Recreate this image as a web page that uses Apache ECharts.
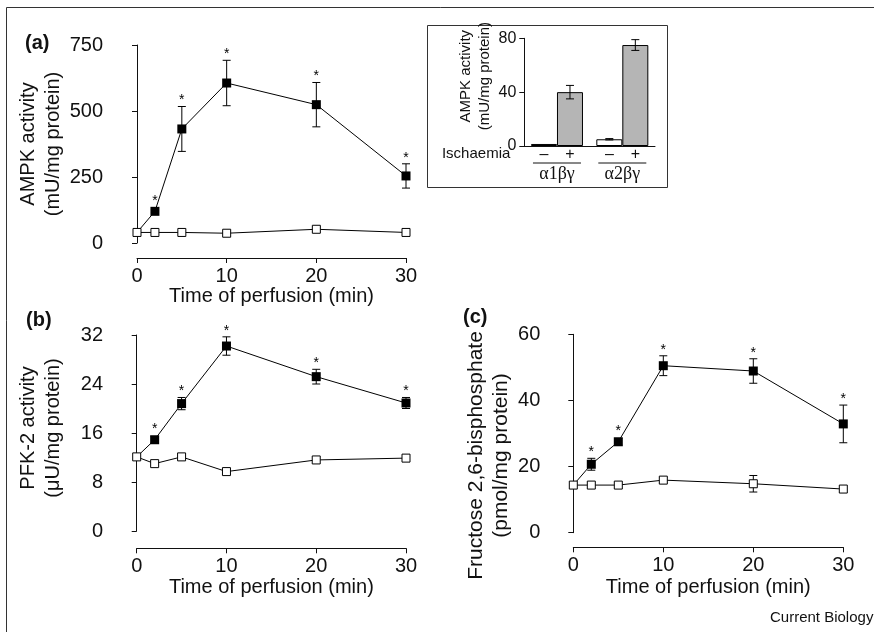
<!DOCTYPE html>
<html><head><meta charset="utf-8">
<script src="https://cdn.jsdelivr.net/npm/echarts@6/dist/echarts.min.js"></script>
<style>html,body{margin:0;padding:0;background:#fff}#chart{width:874px;height:632px}</style>
</head><body><div id="chart"></div>
<script>
// ---------------- data ----------------
const TIME = [0, 2, 5, 10, 20, 30];
const TIME_TICKS = [0, 10, 20, 30];
const X_NAME = 'Time of perfusion (min)';

const A_ISCH = [40, 120, 432, 606, 524, 254];
const A_ISCH_ERR = [0, 6, 85, 86, 84, 46];
const A_CTRL = [40, 40, 40, 37, 52, 40];
const A_CTRL_ERR = [0, 0, 0, 0, 10, 0];
const A_Y_TICKS = [0, 250, 500, 750];

const B_ISCH = [12.1, 14.9, 20.8, 30.2, 25.2, 20.9];
const B_ISCH_ERR = [0, 0.5, 1.0, 1.5, 1.2, 0.9];
const B_CTRL = [12.1, 11.0, 12.1, 9.7, 11.6, 11.9];
const B_CTRL_ERR = [0, 0, 0, 0, 0, 0];
const B_Y_TICKS = [0, 8, 16, 24, 32];

const C_ISCH = [14.4, 20.7, 27.5, 50.5, 48.9, 32.9];
const C_ISCH_ERR = [0, 1.8, 1.0, 3.0, 3.7, 5.7];
const C_CTRL = [14.4, 14.4, 14.4, 15.9, 14.8, 13.2];
const C_CTRL_ERR = [0, 0, 0, 0.8, 2.5, 0];
const C_Y_TICKS = [0, 20, 40, 60];

const STARRED = [false, true, true, true, true, true];

const INSET_GROUPS = ['α1βγ', 'α2βγ'];
const INSET_MINUS = [1.5, 5];
const INSET_MINUS_ERR = [0, 0.5];
const INSET_PLUS = [40, 75];
const INSET_PLUS_ERR = [5, 4];
const INSET_Y_TICKS = [0, 40, 80];
const ISCHAEMIA_MARKS = ['–', '+'];

// ---------------- style / layout ----------------
const SANS = '"Liberation Sans", Arial, Helvetica, sans-serif';
const SERIF = '"Liberation Serif", "Times New Roman", serif';
const INK = '#111';

const PANELS = [
  { isch: A_ISCH, ischErr: A_ISCH_ERR, ctrl: A_CTRL, ctrlErr: A_CTRL_ERR, yTicks: A_Y_TICKS,
    yName: 'AMPK activity\n(mU/mg protein)', yNameSize: 20,
    axisX: 115, x0: 137, x30: 406, yTop: 45, yBottom: 243, xAxisY: 258,
    yNameGap: 49, yNamePad: [0, 0, 0, 0], xNameGap: 24 },
  { isch: B_ISCH, ischErr: B_ISCH_ERR, ctrl: B_CTRL, ctrlErr: B_CTRL_ERR, yTicks: B_Y_TICKS,
    yName: 'PFK-2 activity\n(μU/mg protein)', yNameSize: 20,
    axisX: 115, x0: 136.7, x30: 406, yTop: 335, yBottom: 531, xAxisY: 548.3,
    yNameGap: 49, yNamePad: [0, 0, 0, 10], xNameGap: 29 },
  { isch: C_ISCH, ischErr: C_ISCH_ERR, ctrl: C_CTRL, ctrlErr: C_CTRL_ERR, yTicks: C_Y_TICKS,
    yName: 'Fructose 2,6-bisphosphate\n(pmol/mg protein)', yNameSize: 21,
    axisX: 552.3, x0: 573.3, x30: 843.3, yTop: 334.3, yBottom: 532.7, xAxisY: 547.3,
    yNameGap: 39, yNamePad: [0, 44, 0, 0], xNameGap: 30 }
];
const INSET = { left: 524.3, top: 38.3, width: 130.7, height: 107.7, barWidth: 26 };

const axisLineStyle = { show: true, lineStyle: { color: INK, width: 1 } };
const axisTickStyle = { show: true, inside: false, length: 5, lineStyle: { color: INK, width: 1 } };

function errRender(dx) {
  return function (params, api) {
    const x = api.value(0), y = api.value(1), e = api.value(2);
    if (!e) return { type: 'group', children: [] };
    const t = api.coord([x, y + e]), b = api.coord([x, y - e]);
    const cx = t[0] + dx, cap = 4;
    const style = { stroke: '#000', lineWidth: 1 };
    return { type: 'group', children: [
      { type: 'line', shape: { x1: cx, y1: t[1], x2: cx, y2: b[1] }, style },
      { type: 'line', shape: { x1: cx - cap, y1: t[1], x2: cx + cap, y2: t[1] }, style },
      { type: 'line', shape: { x1: cx - cap, y1: b[1], x2: cx + cap, y2: b[1] }, style }
    ] };
  };
}
function starRender(params, api) {
  const x = api.value(0), y = api.value(1), e = api.value(2);
  const c = api.coord([x, y]), t = api.coord([x, y + e]);
  const top = Math.min(t[1], c[1] - 4.5);
  return { type: 'text', x: c[0], y: top - 6,
    style: { text: '*', fill: '#000', fontSize: 14, fontFamily: SANS, align: 'center', verticalAlign: 'middle' } };
}

const grid = [], xAxis = [], yAxis = [], series = [];
PANELS.forEach(function (p) {
  const first = TIME_TICKS[0], last = TIME_TICKS[TIME_TICKS.length - 1];
  const pxPerMin = (p.x30 - p.x0) / (last - first);
  const gData = grid.length;
  grid.push({ left: p.axisX, top: p.yTop, width: p.x30 - p.axisX, height: p.yBottom - p.yTop });
  const gAxis = grid.length;
  grid.push({ left: p.x0, top: p.xAxisY - 10, width: p.x30 - p.x0, height: 10 });
  const xi = xAxis.length;
  xAxis.push({ gridIndex: gData, type: 'value', min: first - (p.x0 - p.axisX) / pxPerMin, max: last, show: false, splitLine: { show: false } });
  xAxis.push({ gridIndex: gAxis, type: 'value', min: first, max: last, interval: TIME_TICKS[1] - TIME_TICKS[0],
    axisLine: axisLineStyle, axisTick: axisTickStyle, splitLine: { show: false },
    axisLabel: { show: true, fontSize: 20, fontFamily: SANS, color: INK, margin: 8 },
    name: X_NAME, nameLocation: 'middle', nameGap: p.xNameGap,
    nameTextStyle: { fontSize: 20, fontFamily: SANS, color: INK } });
  const yi = yAxis.length;
  const yt = p.yTicks;
  yAxis.push({ gridIndex: gData, type: 'value', min: yt[0], max: yt[yt.length - 1], interval: yt[1] - yt[0],
    axisLine: axisLineStyle, axisTick: axisTickStyle, splitLine: { show: false },
    axisLabel: { show: true, fontSize: 20, fontFamily: SANS, color: INK, margin: 12 },
    name: p.yName, nameLocation: 'middle', nameGap: p.yNameGap, nameRotate: 90,
    nameTextStyle: { fontSize: p.yNameSize, lineHeight: 25, fontFamily: SANS, color: INK, padding: p.yNamePad } });
  yAxis.push({ gridIndex: gAxis, type: 'value', min: 0, max: 1, show: false, splitLine: { show: false } });

  series.push({ type: 'custom', xAxisIndex: xi, yAxisIndex: yi, renderItem: errRender(0), clip: false, z: 1,
    data: TIME.map(function (t, k) { return [t, p.isch[k], p.ischErr[k]]; }) });
  series.push({ type: 'custom', xAxisIndex: xi, yAxisIndex: yi, renderItem: errRender(0), clip: false, z: 1,
    data: TIME.map(function (t, k) { return [t, p.ctrl[k], p.ctrlErr[k]]; }) });
  series.push({ type: 'line', xAxisIndex: xi, yAxisIndex: yi, clip: false, z: 2, showAllSymbol: true,
    symbol: 'rect', symbolSize: 9, itemStyle: { color: '#000' }, lineStyle: { color: '#000', width: 1 },
    emphasis: { disabled: true },
    data: TIME.map(function (t, k) { return k === 0 ? { value: [t, p.isch[k]], symbol: 'none' } : [t, p.isch[k]]; }) });
  series.push({ type: 'line', xAxisIndex: xi, yAxisIndex: yi, clip: false, z: 3, showAllSymbol: true,
    symbol: 'rect', symbolSize: 8, itemStyle: { color: '#fff', borderColor: '#000', borderWidth: 1 },
    lineStyle: { color: '#000', width: 1 }, emphasis: { disabled: true },
    data: TIME.map(function (t, k) { return [t, p.ctrl[k]]; }) });
  series.push({ type: 'custom', xAxisIndex: xi, yAxisIndex: yi, renderItem: starRender, clip: false, z: 4,
    data: TIME.map(function (t, k) { return [t, p.isch[k], p.ischErr[k]]; }).filter(function (d, k) { return STARRED[k]; }) });
});

// inset
const gi = grid.length;
grid.push({ left: INSET.left, top: INSET.top, width: INSET.width, height: INSET.height });
const ixi = xAxis.length;
xAxis.push({ gridIndex: gi, type: 'category', data: INSET_GROUPS, boundaryGap: true,
  axisLine: axisLineStyle, axisTick: { show: false }, splitLine: { show: false },
  axisLabel: { show: true, fontSize: 18, fontFamily: SERIF, color: INK, margin: 19 } });
const iyi = yAxis.length;
yAxis.push({ gridIndex: gi, type: 'value', min: INSET_Y_TICKS[0], max: INSET_Y_TICKS[INSET_Y_TICKS.length - 1],
  interval: INSET_Y_TICKS[1] - INSET_Y_TICKS[0],
  axisLine: axisLineStyle, axisTick: axisTickStyle, splitLine: { show: false },
  axisLabel: { show: true, fontSize: 16, fontFamily: SANS, color: INK, margin: 8 },
  name: 'AMPK activity\n(mU/mg protein)', nameLocation: 'middle', nameGap: 23, nameRotate: 90,
  nameTextStyle: { fontSize: 15, lineHeight: 19, fontFamily: SANS, color: INK, padding: [0, 0, 0, 32] } });
series.push({ type: 'bar', xAxisIndex: ixi, yAxisIndex: iyi, data: INSET_MINUS, barWidth: INSET.barWidth, barGap: '0%', z: 2,
  itemStyle: { color: '#fff', borderColor: '#000', borderWidth: 1 }, emphasis: { disabled: true },
  label: { show: true, position: 'bottom', distance: 1, formatter: ISCHAEMIA_MARKS[0], fontSize: 16, fontFamily: SANS, color: INK } });
series.push({ type: 'bar', xAxisIndex: ixi, yAxisIndex: iyi, data: INSET_PLUS, barWidth: INSET.barWidth, barGap: '0%', z: 2,
  itemStyle: { color: '#b5b5b5', borderColor: '#000', borderWidth: 1 }, emphasis: { disabled: true },
  label: { show: true, position: 'bottom', distance: 1, formatter: ISCHAEMIA_MARKS[1], fontSize: 16, fontFamily: SANS, color: INK } });
series.push({ type: 'custom', xAxisIndex: ixi, yAxisIndex: iyi, renderItem: errRender(-INSET.barWidth / 2), clip: false, z: 3,
  data: INSET_GROUPS.map(function (g, k) { return [k, INSET_MINUS[k], INSET_MINUS_ERR[k]]; }) });
series.push({ type: 'custom', xAxisIndex: ixi, yAxisIndex: iyi, renderItem: errRender(INSET.barWidth / 2), clip: false, z: 3,
  data: INSET_GROUPS.map(function (g, k) { return [k, INSET_PLUS[k], INSET_PLUS_ERR[k]]; }) });

const staticGraphics = [
  { id: 'frame', type: 'rect', silent: true, z: -10, shape: { x: 6.5, y: 7.5, width: 1000, height: 1000 }, style: { fill: 'none', stroke: '#333', lineWidth: 1 } },
  { id: 'insetBox', type: 'rect', silent: true, z: -10, shape: { x: 427.5, y: 25.5, width: 240, height: 162 }, style: { fill: 'none', stroke: '#333', lineWidth: 1 } },
  { id: 'la', type: 'text', x: 25, y: 43, style: { text: '(a)', fontSize: 20, fontWeight: 'bold', fontFamily: SANS, fill: INK, verticalAlign: 'middle' } },
  { id: 'lb', type: 'text', x: 26, y: 320, style: { text: '(b)', fontSize: 20, fontWeight: 'bold', fontFamily: SANS, fill: INK, verticalAlign: 'middle' } },
  { id: 'lc', type: 'text', x: 463, y: 317, style: { text: '(c)', fontSize: 20, fontWeight: 'bold', fontFamily: SANS, fill: INK, verticalAlign: 'middle' } },
  { id: 'credit', type: 'text', x: 770, y: 618, style: { text: 'Current Biology', fontSize: 15, fontFamily: SANS, fill: INK, verticalAlign: 'middle' } }
];

const chart = echarts.init(document.getElementById('chart'), null, { renderer: 'canvas' });
chart.setOption({
  animation: false,
  backgroundColor: '#fff',
  textStyle: { fontFamily: SANS, color: INK },
  grid: grid, xAxis: xAxis, yAxis: yAxis, series: series,
  graphic: staticGraphics
});

// decorations tied to the inset axes
const baseY = chart.convertToPixel({ yAxisIndex: iyi }, 0);
const extra = [
  { id: 'isch', type: 'text', x: INSET.left - 14, y: baseY + 8,
    style: { text: 'Ischaemia', fontSize: 15, fontFamily: SANS, fill: INK, align: 'right', verticalAlign: 'middle' } }
];
INSET_GROUPS.forEach(function (g, k) {
  const cx = chart.convertToPixel({ xAxisIndex: ixi }, g);
  extra.push({ id: 'ul' + k, type: 'line', silent: true,
    shape: { x1: cx - 24, y1: baseY + 17, x2: cx + 24, y2: baseY + 17 }, style: { stroke: INK, lineWidth: 1 } });
});
chart.setOption({ graphic: staticGraphics.concat(extra) });
</script></body></html>
